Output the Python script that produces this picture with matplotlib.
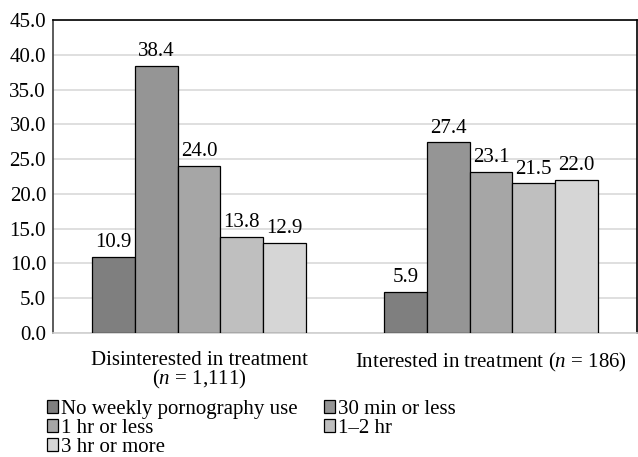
import matplotlib
matplotlib.use("Agg")
import matplotlib.pyplot as plt
import numpy as np
from matplotlib import rcParams

rcParams['font.family'] = ['Liberation Serif', 'DejaVu Serif']
rcParams['mathtext.fontset'] = 'custom'
rcParams['mathtext.it'] = 'Liberation Serif:italic'
rcParams['mathtext.rm'] = 'Liberation Serif'

# data
groups = ["Disinterested in treatment\n($n$ = 1,111)", "Interested in treatment ($n$ = 186)"]
series = ["No weekly pornography use", "30 min or less", "1 hr or less", "1\u20132 hr", "3 hr or more"]
values = [
    [10.9, 5.9],
    [38.4, 27.4],
    [24.0, 23.1],
    [13.8, 21.5],
    [12.9, 22.0],
]
colors = ["#7f7f7f", "#959595", "#a6a6a6", "#bfbfbf", "#d6d6d6"]

FS = 15

fig = plt.figure(figsize=(6.38, 4.57), dpi=100)
ax = fig.add_axes([53 / 638, 1 - 333 / 457, 584 / 638, 313 / 457])

x = np.arange(len(groups))
width = 0.146
handles = []
for i, (name, vals) in enumerate(zip(series, values)):
    pos = x + (i - 2) * width
    bars = ax.bar(pos, vals, width, color=colors[i], edgecolor="black", linewidth=0.9,
                  label=name, zorder=3)
    handles.append(bars)
    for xp, v in zip(pos, vals):
        ax.annotate(f"{v:.1f}", (xp, v), xytext=(0, 3.5), textcoords="offset points",
                    ha="center", va="bottom", fontsize=FS)

ax.set_xlim(-0.5, 1.5)
ax.set_ylim(0, 45)
ax.set_yticks(np.arange(0, 46, 5))
ax.set_yticklabels([f"{t:.1f}" for t in np.arange(0, 46, 5)], fontsize=FS)
ax.set_xticks(x)
ax.set_xticklabels(groups, fontsize=FS, linespacing=0.9)
ax.tick_params(axis="y", length=0, pad=5)
ax.tick_params(axis="x", length=0, pad=13)
ax.yaxis.grid(True, color="#d9d9d9", linewidth=1.2, zorder=0)
ax.set_axisbelow(True)
for s in ["top", "right"]:
    ax.spines[s].set_color("black")
    ax.spines[s].set_linewidth(1.2)
ax.spines["left"].set_color("#404040")
ax.spines["left"].set_linewidth(1.2)
ax.spines["bottom"].set_color("#d0d0d0")
ax.spines["bottom"].set_linewidth(1.2)

order = [0, 2, 4, 1, 3]
leg = fig.legend([handles[k] for k in order], [series[k] for k in order],
                 loc="upper left", bbox_to_anchor=(47 / 638, 1 - 400 / 457),
                 ncol=2, frameon=False, fontsize=FS, handlelength=0.55,
                 handleheight=0.55, handletextpad=0.12, labelspacing=0.0,
                 columnspacing=1.25, borderpad=0, borderaxespad=0)

fig.savefig("out.png", dpi=100)
